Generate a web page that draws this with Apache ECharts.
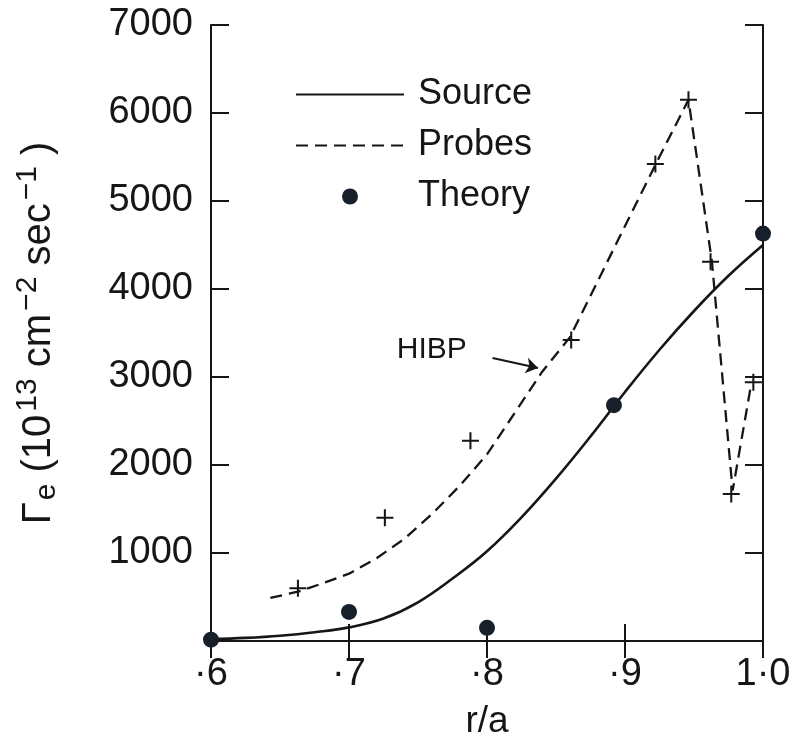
<!DOCTYPE html>
<html>
<head>
<meta charset="UTF-8">
<title>Flux profile</title>
<style>
  html, body { margin: 0; padding: 0; background: #fff; }
  #chart { width: 794px; height: 753px; }
</style>
</head>
<body>
<div id="chart"></div>
<script src="https://cdn.jsdelivr.net/npm/echarts@6/dist/echarts.min.js"></script>
<script>
// values
var xTickLabels = ['·6', '·7', '·8', '·9', '1·0'];

// solid "Source" curve
var sourceCurve = [
  [0.60, 20], [0.625, 35], [0.65, 60], [0.675, 100], [0.70, 155],
  [0.725, 255], [0.75, 440], [0.775, 710], [0.80, 1020], [0.825, 1405],
  [0.85, 1845], [0.875, 2325], [0.90, 2830], [0.925, 3310], [0.95, 3750],
  [0.975, 4150], [1.00, 4500]
];

// dashed "Probes" curve
var probesCurve = [
  [0.643, 490], [0.663, 560], [0.68, 650], [0.70, 765], [0.72, 940],
  [0.74, 1160], [0.76, 1440], [0.78, 1760], [0.80, 2120], [0.82, 2590],
  [0.84, 3060], [0.86, 3450], [0.922, 5410], [0.946, 6150], [0.963, 4310],
  [0.978, 1710], [0.991, 2880]
];

// "+" probe measurements
var probePoints = [
  [0.663, 600], [0.726, 1400], [0.788, 2276], [0.861, 3420], [0.922, 5420],
  [0.946, 6150], [0.962, 4310], [0.977, 1670], [0.993, 2940]
];

// filled dots
var theoryPoints = [
  [0.60, 15], [0.70, 330], [0.80, 150], [0.892, 2680], [1.00, 4630]
];

// HIBP arrow (tail, head) and label position
var hibpArrow = [[0.804, 3216], [0.837, 3102]];
var hibpLabel = [0.760, 3307];

var ink = '#161616';
var dot = '#17202a';
var font = 'Liberation Sans';

var myChart = echarts.init(document.getElementById('chart'));

var crossPath = 'path://M0,4.4 H10 V5.6 H0 Z M4.4,0 H5.6 V10 H4.4 Z';

var option = {
  backgroundColor: '#fff',
  animation: false,
  textStyle: { fontFamily: font, color: ink },
  grid: { left: 211, right: 31, top: 25, bottom: 112, outerBoundsMode: 'none', containLabel: false },
  legend: {
    orient: 'vertical',
    left: 290,
    top: 69,
    itemWidth: 108,
    itemHeight: 16,
    itemGap: 10,
    data: [
      { name: 'Source', itemStyle: { opacity: 0 } },
      { name: 'Probes', itemStyle: { opacity: 0 } },
      { name: 'Theory' }
    ],
    textStyle: { fontFamily: font, fontSize: 36, color: ink, lineHeight: 41, padding: [0, 0, 0, 9] }
  },
  xAxis: [{
    type: 'value',
    min: 0.6,
    max: 1.0,
    interval: 0.1,
    position: 'bottom',
    name: 'r/a',
    nameLocation: 'middle',
    nameGap: 62,
    nameTextStyle: { fontFamily: font, fontSize: 37, color: ink },
    axisLine: { lineStyle: { color: ink, width: 2 } },
    axisTick: { inside: true, length: 17, lineStyle: { color: ink, width: 2 } },
    axisLabel: {
      fontFamily: font, fontSize: 38, color: ink, margin: 15,
      formatter: function (v) { return xTickLabels[Math.round((v - 0.6) * 10)]; }
    },
    splitLine: { show: false }
  }, {
    type: 'value',
    min: 0.6,
    max: 1.0,
    interval: 0.1,
    position: 'top',
    axisLine: { lineStyle: { color: ink, width: 2 } },
    axisTick: { inside: true, length: 17, lineStyle: { color: ink, width: 2 } },
    axisLabel: { show: false },
    splitLine: { show: false }
  }],
  yAxis: [{
    type: 'value',
    min: 0,
    max: 7000,
    interval: 1000,
    position: 'left',
    name: '{a|Γ}{sub|e}{a| (10}{sup|13}{a| cm}{sup|−2}{a| sec}{sup|−1}{a| )}',
    nameLocation: 'middle',
    nameRotate: 90,
    nameGap: 146,
    nameTextStyle: {
      rich: {
        a: { fontFamily: font, fontSize: 40, color: ink },
        sub: { fontFamily: font, fontSize: 30, color: ink, padding: [16, 0, 0, 2] },
        sup: { fontFamily: font, fontSize: 30, color: ink, padding: [0, 0, 22, 3] }
      }
    },
    axisLine: { lineStyle: { color: ink, width: 2 } },
    axisTick: { inside: true, length: 18, lineStyle: { color: ink, width: 2 } },
    axisLabel: {
      fontFamily: font, fontSize: 38, color: ink, margin: 18,
      formatter: function (v) { return v === 0 ? '' : String(v); }
    },
    splitLine: { show: false }
  }, {
    type: 'value',
    min: 0,
    max: 7000,
    interval: 1000,
    position: 'right',
    axisLine: { lineStyle: { color: ink, width: 2 } },
    axisTick: { inside: true, length: 18, lineStyle: { color: ink, width: 2 } },
    axisLabel: { show: false },
    splitLine: { show: false }
  }],
  series: [{
    name: 'Source',
    type: 'line',
    data: sourceCurve,
    smooth: 0.4,
    symbol: 'none',
    lineStyle: { color: ink, width: 2.6, type: 'solid' },
    itemStyle: { color: ink },
    markLine: {
      silent: true,
      symbol: ['none', 'arrow'],
      symbolSize: 12,
      label: { show: false },
      lineStyle: { color: ink, width: 2, type: 'solid' },
      data: [[{ coord: hibpArrow[0] }, { coord: hibpArrow[1] }]]
    },
    markPoint: {
      silent: true,
      symbol: 'circle',
      symbolSize: 1,
      itemStyle: { color: 'transparent' },
      label: {
        show: true, position: 'inside', formatter: 'HIBP',
        fontFamily: font, fontSize: 30, color: ink
      },
      data: [{ coord: hibpLabel }]
    }
  }, {
    name: 'Probes',
    type: 'line',
    data: probesCurve,
    symbol: 'none',
    lineStyle: { color: ink, width: 2.3, type: [12, 7] },
    itemStyle: { color: ink }
  }, {
    name: 'Probe data',
    type: 'scatter',
    data: probePoints,
    symbol: crossPath,
    symbolSize: 17,
    itemStyle: { color: ink, opacity: 1 },
    clip: false
  }, {
    name: 'Theory',
    type: 'scatter',
    data: theoryPoints,
    symbol: 'circle',
    symbolSize: 16,
    itemStyle: { color: dot, opacity: 1 },
    clip: false,
    z: 5
  }]
};

myChart.setOption(option);
</script>
</body>
</html>
